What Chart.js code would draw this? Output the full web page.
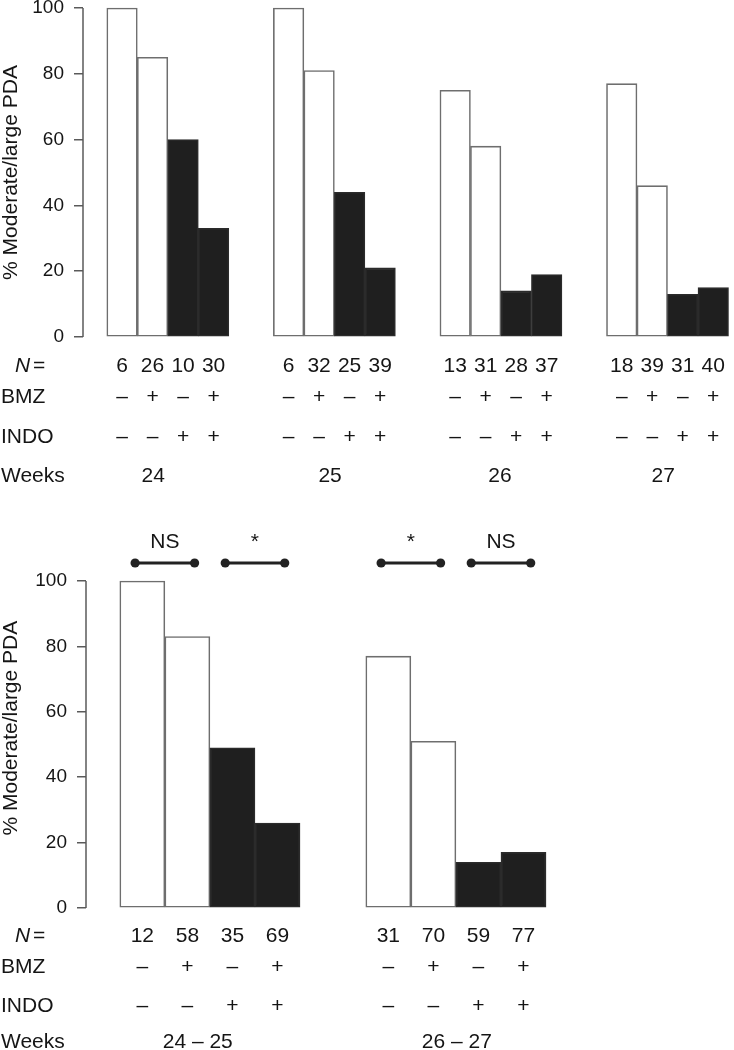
<!DOCTYPE html>
<html><head><meta charset="utf-8">
<script src="https://cdn.jsdelivr.net/npm/chart.js@4.4.1/dist/chart.umd.min.js"></script>
<style>
html,body{margin:0;padding:0;background:#fff;}
#wrap{position:relative;width:734px;height:1050px;overflow:hidden;background:#fff;}
canvas{position:absolute;left:0;}
</style></head><body>
<div id="wrap">
<canvas id="topChart" width="734" height="500" style="top:0px"></canvas>
<canvas id="botChart" width="734" height="550" style="top:500px"></canvas>
</div>
<script>
// ---------- data ----------
const yTicks = [0, 20, 40, 60, 80, 100];
const bmzSigns  = ['–', '+', '–', '+'];
const indoSigns = ['–', '–', '+', '+'];

const topWeeks  = ['24', '25', '26', '27'];
const topValues = [100, 85, 60, 33,  100, 81, 44, 21,  75, 58, 14, 19,  77, 46, 13, 15];
const topN      = [6, 26, 10, 30,  6, 32, 25, 39,  13, 31, 28, 37,  18, 39, 31, 40];

const botWeeks  = ['24 – 25', '26 – 27'];
const botValues = [100, 83, 49, 26,  77, 51, 14, 17];
const botN      = [12, 58, 35, 69,  31, 70, 59, 77];
const botSig    = ['NS', '*', '*', 'NS'];

// ---------- layout constants ----------
const FONT = '"Liberation Sans", Arial, Helvetica, sans-serif';
const TXT = '#151515';
const AXIS = '#5a5a5a';
const GROUP_STEP = 5.46;
const topWeekLabelPos = [1.52, 1.86, 1.97, 1.86];   // label position within group (bar units)
const botWeekLabelPos = [1.73, 2.02];

Chart.defaults.font.family = FONT;
Chart.defaults.color = TXT;

function barX(start, k) {
  const g = Math.floor(k / 4), i = k % 4;
  return start + g * GROUP_STEP + i + 0.5;
}

function makePanel(id, o) {
  const barData = o.values.map((v, k) => ({x: barX(o.start, k), y: v}));
  const datasets = [{
    type: 'bar',
    data: barData,
    backgroundColor: c => indoSigns[c.dataIndex % 4] === '+' ? '#1f1f1f' : '#ffffff',
    borderColor: c => indoSigns[c.dataIndex % 4] === '+' ? '#2b2b2b' : '#6e6e6e',
    borderWidth: 1.6,
    borderSkipped: false,
    barPercentage: 1,
    categoryPercentage: 1,
    clip: false
  }];
  (o.sig || []).forEach((s, p) => {
    const k0 = p * 2;
    const c = (barX(o.start, k0) + barX(o.start, k0 + 1)) / 2;
    datasets.push({
      type: 'line',
      data: [{x: c - 0.66, y: o.bracketY}, {x: c + 0.66, y: o.bracketY}],
      borderColor: '#222', borderWidth: 3,
      pointRadius: 4.6, pointBackgroundColor: '#222', pointBorderColor: '#222', pointBorderWidth: 0,
      pointHoverRadius: 4.6, clip: false, fill: false
    });
  });

  const tablePlugin = {
    id: 'tbl' + id,
    beforeDatasetsDraw(chart) {
      // R-style axis line spanning 0..100 only
      const ctx = chart.ctx, ys = chart.scales.y;
      const x = chart.chartArea.left;
      ctx.save();
      ctx.strokeStyle = AXIS;
      ctx.lineWidth = 1.5;
      ctx.beginPath();
      ctx.moveTo(x, ys.getPixelForValue(yTicks[0]));
      ctx.lineTo(x, ys.getPixelForValue(yTicks[yTicks.length - 1]));
      ctx.stroke();
      ctx.restore();
    },
    afterDraw(chart) {
      const ctx = chart.ctx, xs = chart.scales.x, ys = chart.scales.y;
      const base = ys.getPixelForValue(0);
      ctx.save();
      ctx.fillStyle = TXT;
      ctx.textBaseline = 'alphabetic';
      // y-axis title
      ctx.save();
      ctx.font = '21px ' + FONT;
      const ty = ys.getPixelForValue(o.titleCenter);
      ctx.translate(11, ty);
      ctx.rotate(-Math.PI / 2);
      ctx.textAlign = 'center';
      ctx.textBaseline = 'middle';
      ctx.fillText('% Moderate/large PDA', 0, 0);
      ctx.restore();

      const rows = o.rows.map(r => base + r);
      // row labels
      ctx.textAlign = 'left';
      ctx.font = 'italic 21px ' + FONT;
      ctx.fillText('N', 15, rows[0]);
      ctx.font = '21px ' + FONT;
      ctx.fillText('=', 33, rows[0]);
      ctx.fillText('BMZ', 1, rows[1]);
      ctx.fillText('INDO', 1, rows[2]);
      ctx.fillText('Weeks', 1, rows[3]);
      // per-bar cells
      ctx.textAlign = 'center';
      o.values.forEach((v, k) => {
        const px = xs.getPixelForValue(barX(o.start, k));
        ctx.fillText(String(o.n[k]), px, rows[0]);
        ctx.fillText(bmzSigns[k % 4], px, rows[1]);
        ctx.fillText(indoSigns[k % 4], px, rows[2]);
      });
      o.weeks.forEach((w, g) => {
        const px = xs.getPixelForValue(o.start + g * GROUP_STEP + o.weekPos[g]);
        ctx.fillText(w, px, rows[3]);
      });
      // significance labels
      (o.sig || []).forEach((s, p) => {
        const k0 = p * 2;
        const c = (barX(o.start, k0) + barX(o.start, k0 + 1)) / 2;
        ctx.fillText(s, xs.getPixelForValue(c), ys.getPixelForValue(o.sigTextY));
      });
      ctx.restore();
    }
  };

  return new Chart(document.getElementById(id), {
    type: 'bar',
    data: {datasets},
    options: {
      responsive: false,
      maintainAspectRatio: false,
      animation: false,
      events: [],
      layout: {padding: {top: o.padTop, bottom: o.padBottom, left: 0, right: 0}},
      plugins: {legend: {display: false}, tooltip: {enabled: false}},
      scales: {
        x: {type: 'linear', min: 0, max: o.xMax, offset: false, display: false},
        y: {
          min: 0, max: o.yMax,
          afterBuildTicks: s => { s.ticks = yTicks.map(v => ({value: v})); },
          afterFit: s => { s.width = o.axisX; s.paddingTop = 0; s.paddingBottom = 0; },
          ticks: {font: {size: 19, family: FONT}, color: TXT, padding: 10},
          grid: {display: true, drawOnChartArea: false, drawTicks: true, tickLength: 9, color: AXIS, lineWidth: 1.5},
          border: {display: false}
        }
      }
    },
    plugins: [tablePlugin]
  });
}

makePanel('topChart', {
  values: topValues, n: topN, weeks: topWeeks, weekPos: topWeekLabelPos,
  start: 0.78, xMax: 21.34, axisX: 83, yMax: 100,
  padTop: 8, padBottom: 163,
  rows: [35, 66, 106, 145], titleCenter: 50
});

makePanel('botChart', {
  values: botValues, n: botN, weeks: botWeeks, weekPos: botWeekLabelPos, sig: botSig,
  start: 0.75, xMax: 14.28, axisX: 86, yMax: 112.5,
  padTop: 40.1, padBottom: 142,
  rows: [34, 65, 104, 140], titleCenter: 55,
  bracketY: 105.5, sigTextY: 110.1
});
</script>
</body></html>
